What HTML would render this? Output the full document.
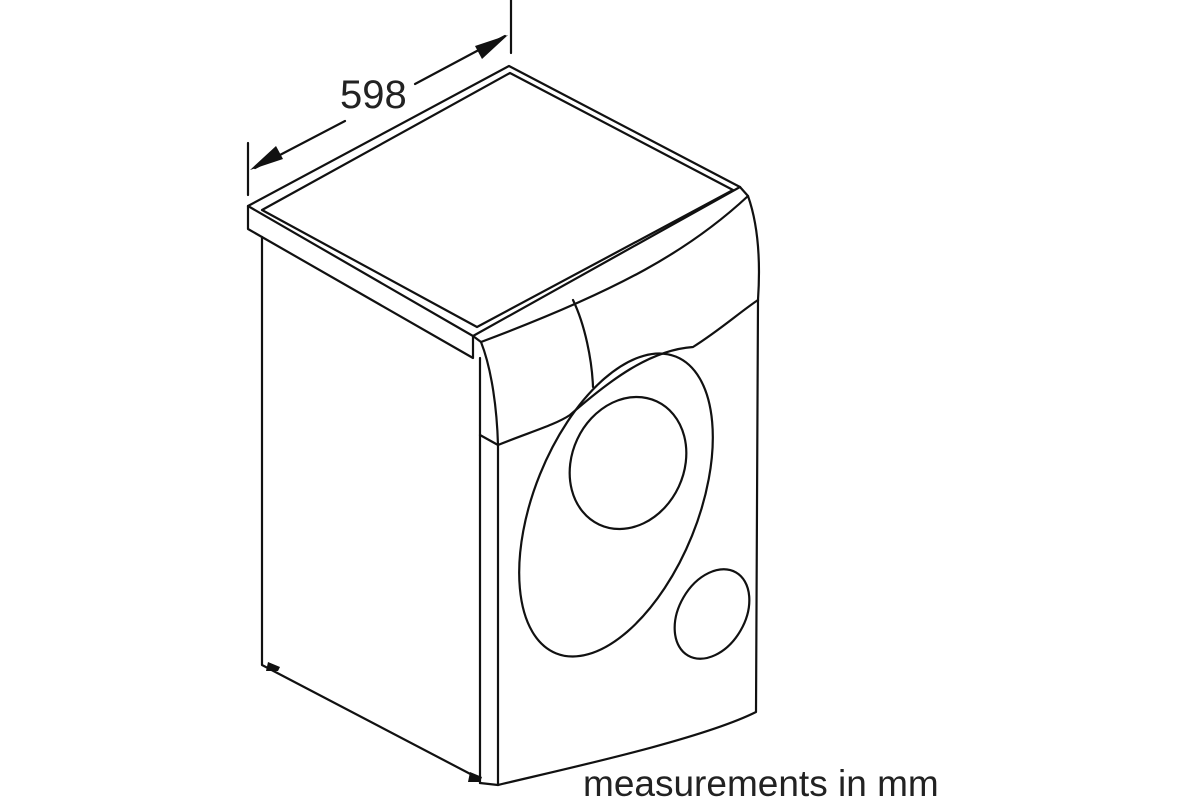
<!DOCTYPE html>
<html><head><style>body{margin:0;background:#fff}svg{display:block}</style></head>
<body>
<svg width="1200" height="800" viewBox="0 0 1200 800" xmlns="http://www.w3.org/2000/svg">
<rect width="1200" height="800" fill="#fff"/>
<g fill="none" stroke="#111" stroke-width="2.2" stroke-linejoin="round" stroke-linecap="round">
<line x1="248" y1="143" x2="248" y2="195"/>
<line x1="511" y1="0" x2="511" y2="53"/>
<line x1="255" y1="168" x2="345" y2="121"/>
<line x1="415" y1="84" x2="505" y2="36"/>
<path d="M248,206 L509,66 L740,187 L473,336 Z"/>
<path d="M262,210 L510,73 L733,190 L477,327 Z"/>
<path d="M248,206 L248,229 L473,358 L473,336"/>
<path d="M473,336 L481,342 C620,290 690,250 748,196"/>
<path d="M740,187 L748,196 C760,230 760,270 758,300"/>
<path d="M262,237 L262,665 L478,778"/>
<line x1="480" y1="358" x2="480" y2="783"/>
<path d="M481,342 C492,370 497,410 498,445 L498,785"/>
<path d="M480,435 L498,445 C530,432 555,425 570,415 C610,380 650,350 693,347 C720,330 740,312 758,300"/>
<path d="M573,300 C585,325 592,360 593,387"/>
<path d="M758,300 L756,712 C700,740 560,770 498,785 L480,783"/>
<ellipse cx="616" cy="505" rx="82" ry="160" transform="rotate(22 616 505)"/>
<ellipse cx="628" cy="463" rx="56" ry="68" transform="rotate(25 628 463)"/>
<ellipse cx="712" cy="614" rx="33" ry="48" transform="rotate(30 712 614)"/>
</g>
<g fill="#111">
<polygon points="250,170 276,146 283,159"/>
<polygon points="508,35 482,59 475,46"/>
<path d="M268,662 l12,5 l-2,4 h-12 z"/>
<path d="M470,772 l12,5 l-2,5 h-12 z"/>
</g>
<text x="340" y="108" font-family="Liberation Sans, sans-serif" font-size="40" fill="#222">598</text>
<text x="583" y="796" font-family="Liberation Sans, sans-serif" font-size="37" fill="#222">measurements in mm</text>
</svg>
</body></html>
